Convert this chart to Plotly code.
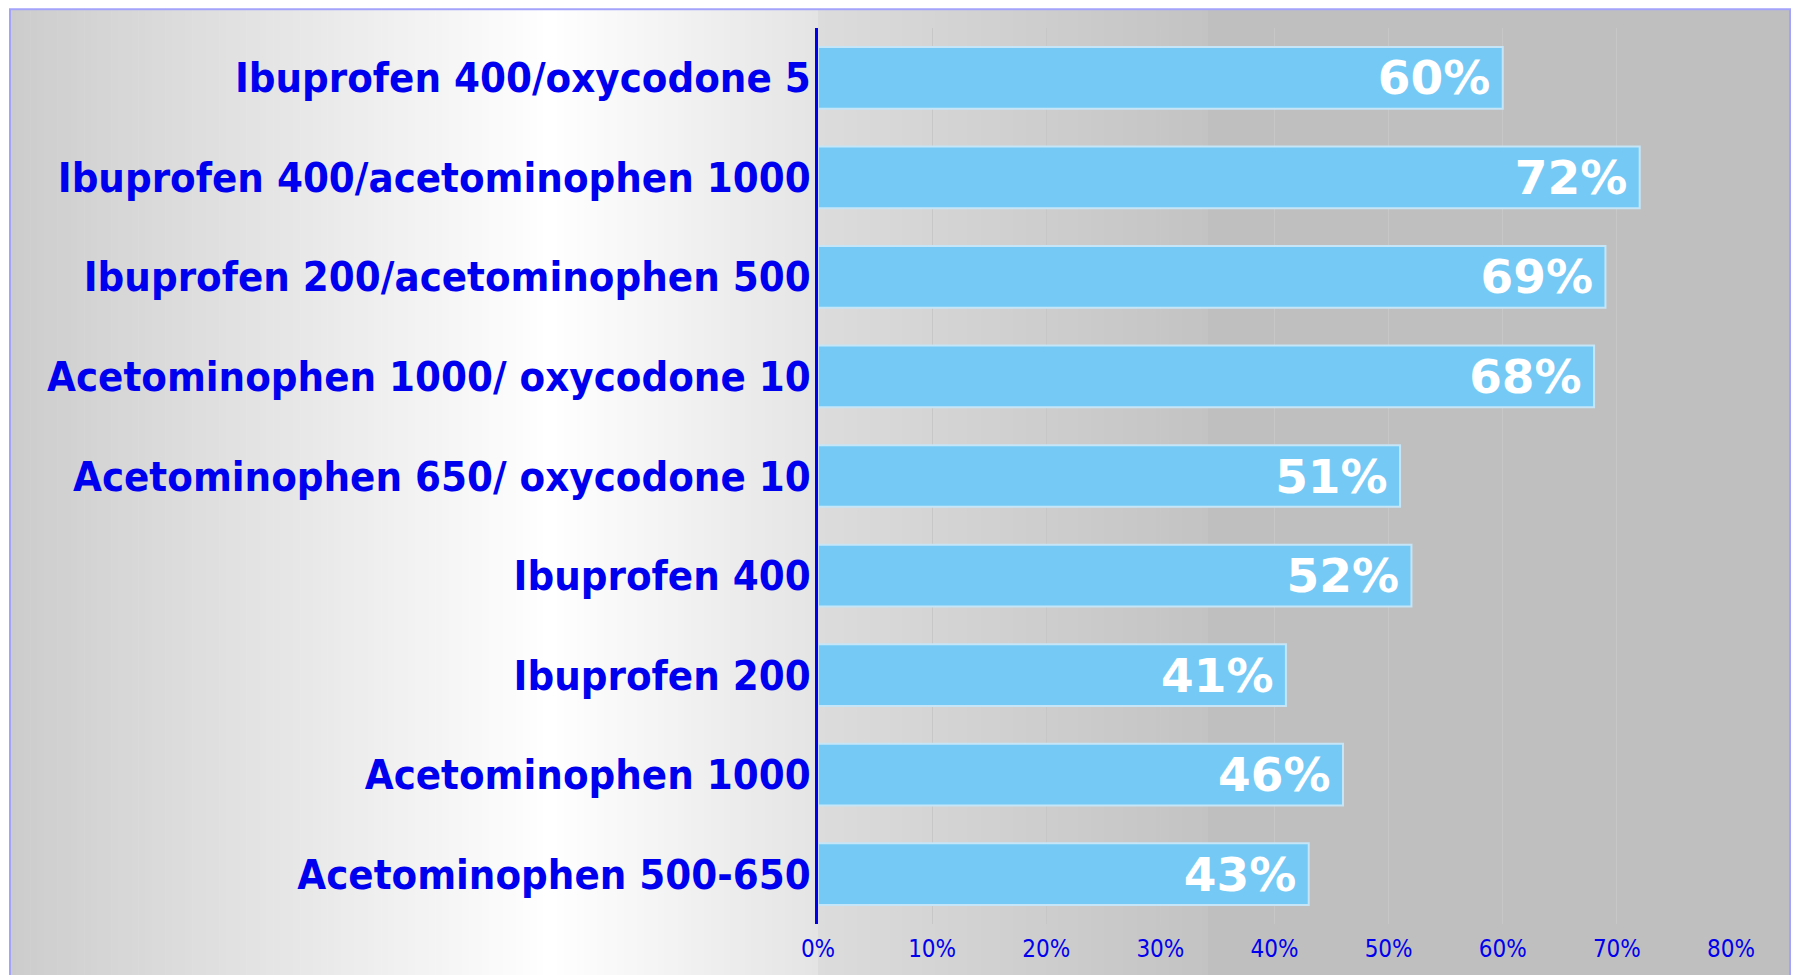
import plotly.graph_objects as go

# Regimens (top to bottom) and share of patients with at least 50% pain relief
regimens = [
    "Ibuprofen 400/oxycodone 5",
    "Ibuprofen 400/acetominophen 1000",
    "Ibuprofen 200/acetominophen 500",
    "Acetominophen 1000/ oxycodone 10",
    "Acetominophen 650/ oxycodone 10",
    "Ibuprofen 400",
    "Ibuprofen 200",
    "Acetominophen 1000",
    "Acetominophen 500-650",
]
relief = [0.60, 0.72, 0.69, 0.68, 0.51, 0.52, 0.41, 0.46, 0.43]
tick_vals = [0, 0.1, 0.2, 0.3, 0.4, 0.5, 0.6, 0.7, 0.8]
tick_text = ["0%", "10%", "20%", "30%", "40%", "50%", "60%", "70%", "80%"]

W, H = 1796, 975
M_L, M_R, M_T, M_B = 818, 65, 28, 44
PW = W - M_L - M_R
PH = H - M_T - M_B

BLUE = "#0000ee"


def px_x(x):
    return (x - M_L) / PW


def px_y(y):
    return (H - M_B - y) / PH


def mix(c1, c2, t):
    return "#%02x%02x%02x" % tuple(round(a + (b - a) * t) for a, b in zip(c1, c2))


shapes = []


def gradient(x0, x1, c0, c1, steps):
    for i in range(steps):
        a = x0 + (x1 - x0) * i / steps
        b = x0 + (x1 - x0) * (i + 1) / steps + 0.6
        shapes.append(dict(
            type="rect", xref="paper", yref="paper", layer="below",
            x0=px_x(a), x1=px_x(b), y0=px_y(H + 30), y1=px_y(9),
            fillcolor=mix(c0, c1, (i + 0.5) / steps), line_width=0,
        ))


# chart-area background: grey -> white -> light grey across the label column
gradient(10, 550, (204, 204, 204), (255, 255, 255), 80)
gradient(550, 818, (255, 255, 255), (228, 228, 228), 40)
# plot-area background: light grey fading into flat grey
gradient(818, 1208, (220, 220, 220), (195, 195, 195), 60)
shapes.append(dict(
    type="rect", xref="paper", yref="paper", layer="below",
    x0=px_x(1208), x1=px_x(1790), y0=px_y(H + 30), y1=px_y(9),
    fillcolor="#bfbfbf", line_width=0,
))
# chart-area frame (its lower edge runs past the bottom of the page)
shapes.append(dict(
    type="rect", xref="paper", yref="paper", layer="above",
    x0=px_x(10), x1=px_x(1790), y0=px_y(H + 30), y1=px_y(9),
    fillcolor="rgba(0,0,0,0)", line=dict(color="#a3a3fb", width=2),
))

fig = go.Figure(go.Bar(
    x=relief,
    y=regimens,
    orientation="h",
    width=0.62,
    marker=dict(color="#74caf5", line=dict(color="#c6e6f8", width=2)),
    texttemplate="%{x:.0%}\u2009",
    textposition="inside",
    insidetextanchor="end",
    textangle=0,
    constraintext="none",
    textfont=dict(family="DejaVu Sans", size=47, color="white", weight="bold"),
    cliponaxis=False,
    hoverinfo="skip",
))

fig.update_layout(
    width=W, height=H,
    margin=dict(l=M_L, r=M_R, t=M_T, b=M_B, pad=0),
    paper_bgcolor="white",
    plot_bgcolor="rgba(0,0,0,0)",
    showlegend=False,
    shapes=shapes,
    xaxis=dict(
        range=[0, 0.8],
        tickvals=tick_vals,
        ticktext=tick_text,
        showgrid=True,
        gridcolor="#c7c7c7",
        gridwidth=1,
        zeroline=False,
        showline=False,
        ticks="",
        ticklabelstandoff=8,
        tickfont=dict(family="DejaVu Sans Condensed", size=24, color=BLUE),
    ),
    yaxis=dict(
        categoryorder="array",
        categoryarray=regimens,
        autorange="reversed",
        showgrid=False,
        zeroline=False,
        showline=True,
        linecolor=BLUE,
        linewidth=3,
        ticks="",
        ticklabelstandoff=-4,
        tickfont=dict(family="DejaVu Sans Condensed", size=41.5, color=BLUE, weight="bold"),
    ),
)

fig.write_html("out.html")
